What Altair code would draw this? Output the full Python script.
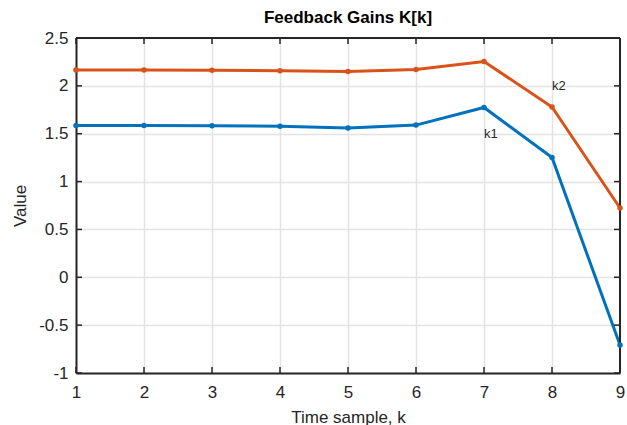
import altair as alt
import pandas as pd

k_values = [1, 2, 3, 4, 5, 6, 7, 8, 9]
k1_values = [1.586, 1.586, 1.584, 1.577, 1.560, 1.590, 1.774, 1.251, -0.708]
k2_values = [2.166, 2.165, 2.163, 2.158, 2.150, 2.172, 2.255, 1.779, 0.724]
series_names = ["k1", "k2"]
series_colors = ["#0072BD", "#D95319"]
label_x = [7, 8]
label_y = [1.5, 2.0]
x_ticks = [1, 2, 3, 4, 5, 6, 7, 8, 9]
y_ticks = [-1, -0.5, 0, 0.5, 1, 1.5, 2, 2.5]

rows = []
for name, vals in zip(series_names, [k1_values, k2_values]):
    for k, v in zip(k_values, vals):
        rows.append({"k": k, "value": v, "series": name})
df = pd.DataFrame(rows)
labels_df = pd.DataFrame({"x": label_x, "y": label_y, "text": series_names})
xt_df = pd.DataFrame({"t": x_ticks})
yt_df = pd.DataFrame({"t": y_ticks})

W, H = 544, 335
FONT = "Liberation Sans"
INK = "#262626"

xs = alt.Scale(domain=[1, 9], nice=False, zero=False)
ys = alt.Scale(domain=[-1, 2.5], nice=False, zero=False)
color = alt.Color("series:N", scale=alt.Scale(domain=series_names, range=series_colors), legend=None)

axis_common = dict(grid=True, gridColor="#e3e3e3", gridWidth=1.5, domain=True, domainColor=INK,
                   domainWidth=2, ticks=False, labelFontSize=17, labelColor=INK, labelFlush=False,
                   titleFontSize=17, titleFontWeight="normal", titleColor=INK,
                   labelFont=FONT, titleFont=FONT, labelExpr="toString(datum.value)")

base = alt.Chart(df)
lines = base.mark_line(strokeWidth=3).encode(
    x=alt.X("k:Q", scale=xs, axis=alt.Axis(values=x_ticks, title="Time sample, k",
                                           labelPadding=11, titlePadding=9, **axis_common)),
    y=alt.Y("value:Q", scale=ys, axis=alt.Axis(values=y_ticks, title="Value",
                                               labelPadding=8, titlePadding=9, **axis_common)),
    color=color,
)
points = base.mark_circle(size=30, opacity=1).encode(
    x=alt.X("k:Q", scale=xs), y=alt.Y("value:Q", scale=ys), color=color
)
texts = alt.Chart(labels_df).mark_text(align="left", baseline="middle", fontSize=13, font=FONT, color=INK).encode(
    x=alt.X("x:Q", scale=xs), y=alt.Y("y:Q", scale=ys), text="text:N"
)
xt_bottom = alt.Chart(xt_df).mark_rule(color=INK, strokeWidth=1.5).encode(
    x=alt.X("t:Q", scale=xs), y=alt.value(H), y2=alt.value(H - 6))
xt_top = alt.Chart(xt_df).mark_rule(color=INK, strokeWidth=1.5).encode(
    x=alt.X("t:Q", scale=xs), y=alt.value(0), y2=alt.value(6))
yt_left = alt.Chart(yt_df).mark_rule(color=INK, strokeWidth=1.5).encode(
    y=alt.Y("t:Q", scale=ys), x=alt.value(0), x2=alt.value(6))
yt_right = alt.Chart(yt_df).mark_rule(color=INK, strokeWidth=1.5).encode(
    y=alt.Y("t:Q", scale=ys), x=alt.value(W), x2=alt.value(W - 6))
top_line = alt.Chart(xt_df).mark_rule(color=INK, strokeWidth=2).encode(
    x=alt.value(0), x2=alt.value(W), y=alt.value(0))
right_line = alt.Chart(xt_df).mark_rule(color=INK, strokeWidth=2).encode(
    x=alt.value(W), y=alt.value(0), y2=alt.value(H))

chart = alt.layer(lines, xt_bottom, xt_top, yt_left, yt_right, top_line, right_line, points, texts).properties(
    width=W, height=H,
    title=alt.TitleParams("Feedback Gains K[k]", fontSize=17, fontWeight="bold", font=FONT,
                          color="#000000", anchor="middle", offset=2),
    autosize=alt.AutoSizeParams(type="none"),
    padding={"left": 76, "top": 38, "right": 7, "bottom": 52},
).configure_view(stroke=None).configure(background="white")

chart.save("out.html", embed_options={"renderer": "svg", "actions": False})
